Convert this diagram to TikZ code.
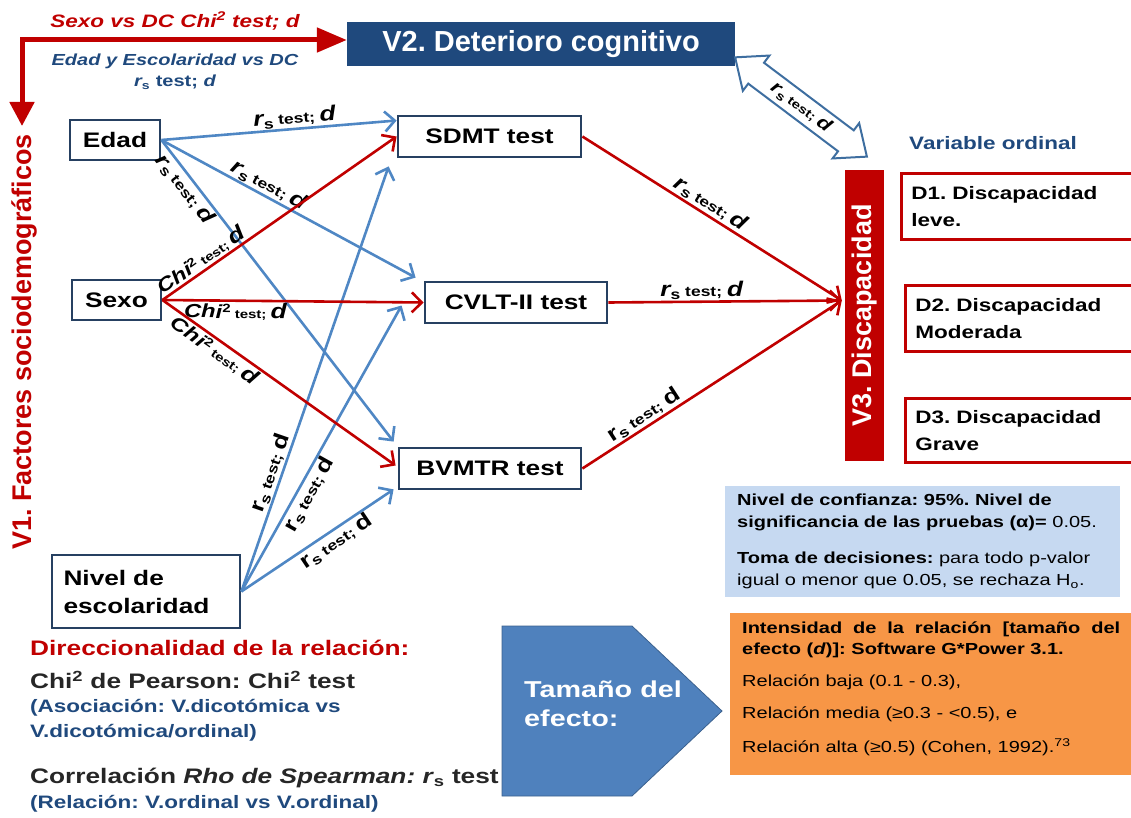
\documentclass[tikz,border=0pt]{standalone}
\usepackage{fontspec}
\setmainfont{Liberation Sans}[FakeStretch=1.25]
\newfontfamily\plainsans{Liberation Sans}
\usetikzlibrary{arrows.meta,shapes.arrows,calc}
\frenchspacing
\definecolor{hdrblue}{RGB}{31,73,125}
\definecolor{boxline}{RGB}{38,64,97}
\definecolor{dred}{RGB}{192,0,0}
\definecolor{eblue}{RGB}{79,135,196}
\definecolor{lblue}{RGB}{198,217,241}
\definecolor{orng}{RGB}{247,150,70}
\definecolor{pent}{RGB}{79,129,189}
\definecolor{dgray}{RGB}{38,38,38}
\definecolor{arrline}{RGB}{62,110,160}
\newcommand{\fsz}[2]{\fontsize{#1pt}{#2pt}\selectfont}
\newcommand{\rst}{{\fsz{21}{21}\bfseries\itshape r}{\fsz{14}{14}\bfseries\raisebox{-3pt}{s} test; }{\fsz{21}{21}\bfseries\itshape d}}
\newcommand{\rstu}{{\fsz{21}{21}\bfseries r}{\fsz{14}{14}\bfseries\raisebox{-3pt}{s} test; }{\fsz{21}{21}\bfseries d}}
\newcommand{\chit}{{\fsz{19}{19}\bfseries\itshape Chi}{\fsz{12}{12}\bfseries\raisebox{6pt}{2} test; }{\fsz{21}{21}\bfseries\itshape d}}
\newcommand{\rsd}{{\fsz{18}{18}\bfseries\itshape r}{\fsz{12}{12}\bfseries\raisebox{-3pt}{s} test; }{\fsz{18}{18}\bfseries\itshape d}}
\begin{document}
\frenchspacing
\begin{tikzpicture}[x=1pt,y=-1pt,
  nbox/.style={draw=boxline, line width=2.8pt, fill=white, inner sep=0pt, font=\fsz{21}{24}\bfseries},
  dbox/.style={draw=dred, line width=2.8pt, fill=white, anchor=north west, minimum width=245pt, minimum height=66pt, text width=225pt, inner xsep=10pt, align=left, font=\fsz{18}{27}\bfseries},
  barr/.style={draw=eblue, line width=2.6pt, -{Straight Barb[length=10pt,width=20pt]}},
  rarr/.style={draw=dred, line width=2.6pt, -{Straight Barb[length=10pt,width=20pt]}},
  lab/.style={sloped, inner sep=1pt, text=black},
  bltext/.style={anchor=west, inner sep=0pt, font=\fsz{18}{22}\bfseries, text=hdrblue},
  bktext/.style={anchor=west, inner sep=0pt, font=\fsz{21}{24}\bfseries, text=dgray}]
\useasboundingbox (0,0) rectangle (1131,818);

% header boxes
\node[fill=hdrblue, minimum width=388pt, minimum height=44pt, inner sep=0, text=white, font=\plainsans\bfseries\fsz{29}{32}] (v2) at (541,44) {V2. Deterioro cognitivo};

% left factor boxes
\node[nbox, minimum width=90pt, minimum height=40pt] (edad) at (115,140) {Edad};
\node[nbox, minimum width=89pt, minimum height=40pt] (sexo) at (116.5,300) {Sexo};
\node[nbox, minimum width=188pt, minimum height=73pt, text width=165pt, align=left, font=\fsz{21}{28}\bfseries] (nivel) at (146,591.5) {Nivel de\\escolaridad};

% test boxes
\node[nbox, minimum width=183pt, minimum height=41pt] (sdmt) at (489.5,136.5) {SDMT test};
\node[nbox, minimum width=182pt, minimum height=41pt] (cvlt) at (516,302.5) {CVLT-II test};
\node[nbox, minimum width=182pt, minimum height=41pt] (bvmtr) at (490,468.5) {BVMTR test};

% V3
\node[fill=dred, minimum width=39pt, minimum height=291pt, inner sep=0] (v3) at (864.5,315.5) {};
\node[rotate=90, text=white, inner sep=0, font=\plainsans\bfseries\fsz{27}{30}] (v3t) at (v3.center) {V3. Discapacidad};
\node[dbox] (d1) at (900,172) {D1. Discapacidad\\leve.};
\node[dbox] (d2) at (904,284) {D2. Discapacidad\\Moderada};
\node[dbox, minimum height=64pt] (d3) at (904,397) {D3. Discapacidad\\Grave};
\node[text=hdrblue, inner sep=0, font=\fsz{18}{20}\bfseries] (vord) at (993,143) {Variable ordinal};

% V1 vertical title and L arrow
\node[rotate=90, text=dred, inner sep=0, font=\plainsans\bfseries\fsz{27}{30}] (v1) at (24,342) {V1. Factores sociodemográficos};
\coordinate (ltip) at (22,126);
\draw[dred, line width=5pt, {Triangle[length=24pt,width=24pt]}-{Triangle[length=30pt,width=24pt]}] (ltip) |- ([yshift=4pt]v2.west);
\node[text=dred, inner sep=0, font=\fsz{18}{20}\bfseries\itshape] (toplab) at (175,21) {Sexo vs DC Chi\textsuperscript{2} test; d};
\node[text=hdrblue, inner sep=0, align=center, font=\fsz{16}{21}\bfseries\itshape] (midlab) at (175,72) {Edad y Escolaridad vs DC\\r\textsubscript{\upshape s} {\upshape test;} d};

% double arrow V2 <-> V3
\node[double arrow, rotate=-37, draw=arrline, fill=white, line width=2pt, minimum height=165pt, double arrow head extend=9pt, double arrow tip angle=80, inner xsep=2pt, inner ysep=4pt] (dbl) at (801,107) {\rsd};

% blue edges
\draw[barr] (edad.east) -- ([yshift=16pt]sdmt.west) node[lab, above, pos=0.57] (l1) {\rst};
\draw[barr] (edad.east) -- ([xshift=-8pt,yshift=3pt]cvlt.north west) node[lab, above, pos=0.40] (l2) {\rst};
\draw[barr] (edad.east) -- ([xshift=-4pt,yshift=5pt]bvmtr.north west) node[lab, below, pos=0.14] (l3) {\rst};
\draw[barr] (nivel.east) -- ([xshift=-8pt,yshift=-8pt]sdmt.south west) node[lab, above, pos=0.27] (l4) {\rstu};
\draw[barr] (nivel.east) -- ([xshift=-22pt,yshift=-3pt]cvlt.west) node[lab, below, pos=0.36] (l5) {\rstu};
\draw[barr] (nivel.east) -- ([xshift=-4pt,yshift=1pt]bvmtr.south west) node[lab, below, pos=0.58] (l6) {\rstu};

% red edges
\draw[rarr] (sexo.east) -- (sdmt.west) node[lab, above, pos=0.19] (l7) {\chit};
\draw[rarr] (sexo.east) -- (cvlt.west) node[lab, below, pos=0.28] (l8) {\chit};
\draw[rarr] (sexo.east) -- ([xshift=-2pt,yshift=3pt]bvmtr.west) node[lab, below, pos=0.25] (l9) {\chit};
\coordinate (conv) at ([xshift=-3pt,yshift=15pt]v3.west);
\draw[rarr] (sdmt.east) -- (conv) node[lab, above, pos=0.47] (l10) {\rst};
\draw[rarr] (cvlt.east) -- (conv) node[lab, above, pos=0.40] (l11) {\rst};
\draw[rarr] (bvmtr.east) -- (conv) node[lab, above, pos=0.26] (l12) {\rstu};

% information boxes
\node[fill=lblue, anchor=north west, minimum width=395pt, minimum height=111pt, inner sep=0] (confbox) at (725,486) {};
\node[anchor=north west, inner sep=0, align=left, font=\fsz{16}{22}] (conftext) at (737,494) {%
{\bfseries Nivel de confianza: 95\%. Nivel de}\\
{\bfseries significancia de las pruebas (α)=} 0.05.\\[14pt]
{\bfseries Toma de decisiones:} para todo p-valor\\
igual o menor que 0.05, se rechaza H\textsubscript{o}.};

\node[fill=orng, anchor=north west, minimum width=405pt, minimum height=162pt, inner sep=0] (intbox) at (730,613) {};
\node[anchor=north west, inner sep=0, align=left, font=\fsz{16}{21}] (inttext) at (742,622) {%
\makebox[378pt][s]{\bfseries Intensidad de la relación [tamaño del}\\
{\bfseries efecto (\textit{d})]: Software G*Power 3.1.}\\[11pt]
Relación baja (0.1 - 0.3),\\[11pt]
Relación media (≥0.3 - <0.5), e\\[13pt]
Relación alta (≥0.5) (Cohen, 1992).\textsuperscript{73}};

% pentagon arrow
\draw[fill=pent, draw=pent!75!black, line width=0.8pt] (502,626) -- (632,626) -- (722,711) -- (632,796) -- (502,796) -- cycle;
\node[anchor=west, align=left, text=white, inner sep=0, font=\fsz{23}{29}\bfseries] (tam) at (524,704) {Tamaño del\\efecto:};

% bottom-left legend
\node[bktext, text=dred] (t1) at (30,648) {Direccionalidad de la relación:};
\node[bktext] (t2) at (30,680) {Chi\textsuperscript{2} de Pearson: Chi\textsuperscript{2} test};
\node[bltext] (t3) at (30,708) {(Asociación: V.dicotómica vs};
\node[bltext] (t4) at (30,733) {V.dicotómica/ordinal)};
\node[bktext] (t5) at (30,778) {Correlación \textit{Rho de Spearman: r}\textsubscript{s} test};
\node[bltext] (t6) at (30,804) {(Relación: V.ordinal vs V.ordinal)};
\end{tikzpicture}
\end{document}
